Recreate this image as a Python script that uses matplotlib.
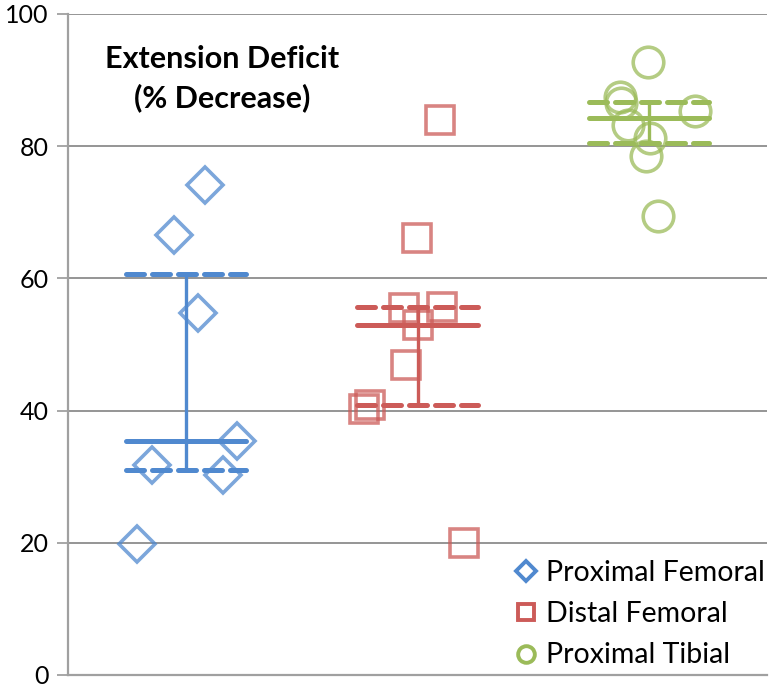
import numpy as np
import matplotlib
matplotlib.use('Agg')
import matplotlib.pyplot as plt
from matplotlib.lines import Line2D

plt.rcParams['font.family'] = ['Lato', 'DejaVu Sans']

# Data (x = jittered group position, y = % decrease)
prox_fem_x = [0.786, 0.855, 0.946, 1.050, 1.084, 1.158, 1.222]
prox_fem_y = [19.8, 31.8, 66.6, 54.7, 74.1, 30.3, 35.4]

dist_fem_x = [2.099, 1.996, 1.940, 2.108, 2.004, 1.952, 1.771, 1.793, 2.199]
dist_fem_y = [84.0, 66.1, 55.5, 55.7, 53.0, 46.9, 40.3, 40.8, 20.0]

prox_tib_x = [2.998, 2.873, 2.881, 2.911, 3.006, 2.989, 3.201, 3.040]
prox_tib_y = [92.7, 87.4, 86.5, 83.2, 81.2, 78.5, 85.3, 69.4]

labels = ['Proximal Femoral', 'Distal Femoral', 'Proximal Tibial']
colors = ['#5089CF', '#CC5B58', '#9BBB59']
markers = ['D', 's', 'o']
msizes = [18, 20, 22]

groups = [(prox_fem_x, prox_fem_y), (dist_fem_x, dist_fem_y), (prox_tib_x, prox_tib_y)]

fig = plt.figure(figsize=(7.74, 6.84), dpi=100)
ax = fig.add_axes([68/774, 9/684, 699/774, 661/684])

grid_col = '#8c8c8c'
for v in [20, 40, 60, 80, 100]:
    ax.axhline(v, color=grid_col, lw=1.3, zorder=0)

half = 0.26
for i, (xs, ys) in enumerate(groups):
    c = colors[i]
    ax.plot(xs, ys, linestyle='none', marker=markers[i], markersize=msizes[i],
            markerfacecolor='none', markeredgecolor=c, markeredgewidth=2.6,
            alpha=0.75, zorder=3)
    # median (solid) and quartiles (dashed) with a connecting line
    q1, med, q3 = np.percentile(ys, [25, 50, 75])
    cx = i + 1
    ax.plot([cx - half, cx + half], [med, med], color=c, lw=3.6,
            solid_capstyle='round', zorder=4)
    for q in (q1, q3):
        ax.plot([cx - half, cx + half], [q, q], color=c, lw=3.6,
                linestyle=(0, (3.6, 1.6)), dash_capstyle='round', zorder=4)
    ax.plot([cx, cx], [q1, q3], color=c, lw=2.4, zorder=4)

ax.set_xlim(0.49, 3.51)
ax.set_ylim(0, 100)
ax.set_yticks([0, 20, 40, 60, 80, 100])
ax.set_xticks([])
ax.tick_params(axis='y', labelsize=18, length=8, width=1.3, color='#a0a0a0', pad=6)
for s in ['top', 'right']:
    ax.spines[s].set_visible(False)
ax.spines['left'].set_color('#a0a0a0')
ax.spines['bottom'].set_color('#a0a0a0')
ax.spines['left'].set_linewidth(1.6)
ax.spines['bottom'].set_linewidth(1.6)

ax.text(0.221, 0.902, 'Extension Deficit\n(% Decrease)', transform=ax.transAxes,
        ha='center', va='center', fontsize=22, fontweight='bold', linespacing=1.45)

handles = [Line2D([], [], linestyle='none', marker=markers[i], markersize=[10, 12, 12][i],
                  markerfacecolor='none', markeredgecolor=colors[i], markeredgewidth=2.8)
           for i in range(3)]
ax.legend(handles, labels, loc='lower right', bbox_to_anchor=(1.021, -0.016), frameon=False,
          fontsize=20.5, handlelength=0.8, handletextpad=0.3, labelspacing=0.535,
          borderaxespad=0.2)

fig.savefig('out.png', dpi=100)
